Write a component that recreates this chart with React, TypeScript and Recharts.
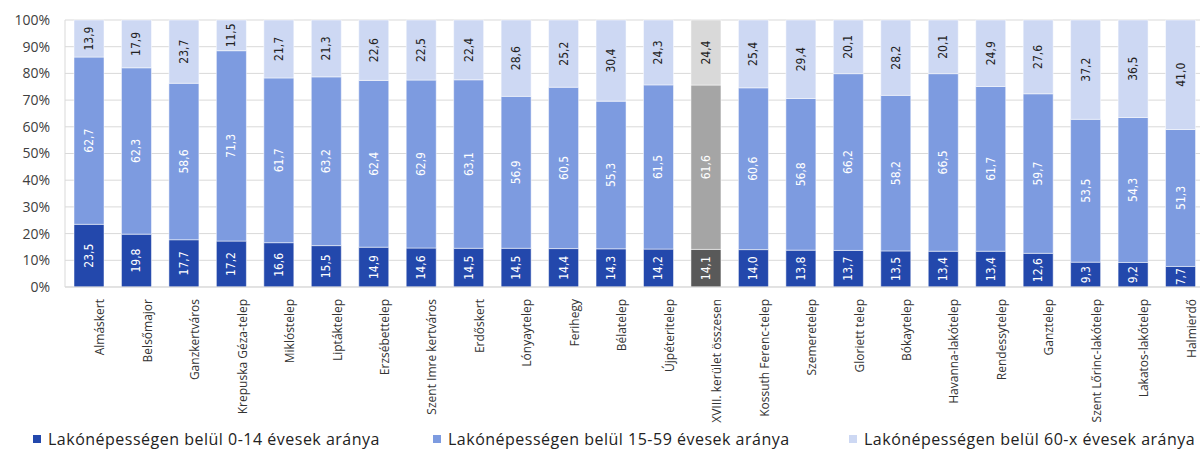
import { BarChart, Bar, XAxis, YAxis, CartesianGrid, LabelList, Cell } from 'recharts';

const categories = [
  'Almáskert', 'Belsőmajor', 'Ganzkertváros', 'Krepuska Géza-telep', 'Miklóstelep', 'Liptáktelep',
  'Erzsébettelep', 'Szent Imre kertváros', 'Erdőskert', 'Lónyaytelep', 'Ferihegy', 'Bélatelep',
  'Újpéteritelep', 'XVIII. kerület összesen', 'Kossuth Ferenc-telep', 'Szemeretelep', 'Gloriett telep',
  'Bókaytelep', 'Havanna-lakótelep', 'Rendessytelep', 'Ganztelep', 'Szent Lőrinc-lakótelep',
  'Lakatos-lakótelep', 'Halmierdő',
];
const young = [23.5, 19.8, 17.7, 17.2, 16.6, 15.5, 14.9, 14.6, 14.5, 14.5, 14.4, 14.3, 14.2, 14.1, 14.0, 13.8, 13.7, 13.5, 13.4, 13.4, 12.6, 9.3, 9.2, 7.7];
const adult = [62.7, 62.3, 58.6, 71.3, 61.7, 63.2, 62.4, 62.9, 63.1, 56.9, 60.5, 55.3, 61.5, 61.6, 60.6, 56.8, 66.2, 58.2, 66.5, 61.7, 59.7, 53.5, 54.3, 51.3];
const old = [13.9, 17.9, 23.7, 11.5, 21.7, 21.3, 22.6, 22.5, 22.4, 28.6, 25.2, 30.4, 24.3, 24.4, 25.4, 29.4, 20.1, 28.2, 20.1, 24.9, 27.6, 37.2, 36.5, 41.0];
const yTicks = [0, 0.1, 0.2, 0.3, 0.4, 0.5, 0.6, 0.7, 0.8, 0.9, 1];
const seriesNames = [
  'Lakónépességen belül 0-14 évesek aránya',
  'Lakónépességen belül 15-59 évesek aránya',
  'Lakónépességen belül 60-x évesek aránya',
];
const totalName = 'XVIII. kerület összesen';

const blue = ['#2348ac', '#7d9be0', '#cdd8f3'];
const gray = ['#595959', '#a5a5a5', '#d9d9d9'];
const labelColor = ['#ffffff', '#ffffff', '#222222'];

const data = categories.map((name, i) => ({ name, young: young[i], adult: adult[i], old: old[i] }));

const fmt = (v: number) => v.toFixed(1).replace('.', ',');

const XTick = ({ x, y, payload }: any) => (
  <g transform={`translate(${x + 11},${y + 10})`}>
    <text
      transform="rotate(-90)"
      textAnchor="end"
      dominantBaseline="central"
      fontFamily="Open Sans"
      fontSize={12}
      fill="#333"
    >
      {payload.value}
    </text>
  </g>
);

const makeLabel = (color: string) => (props: any) => {
  const { x, y, width, height, value } = props;
  const cx = x + width / 2;
  const cy = y + height / 2;
  return (
    <text
      x={cx}
      y={cy}
      transform={`rotate(-90, ${cx}, ${cy})`}
      textAnchor="middle"
      dominantBaseline="central"
      fontFamily="DejaVu Sans Condensed"
      fontSize={12}
      fill={color}
    >
      {fmt(value)}
    </text>
  );
};

const keys = ['young', 'adult', 'old'];

export default function App() {
  return (
    <div style={{ position: 'absolute', left: 0, top: 0, width: 1204, height: 452, background: '#fff', overflow: 'hidden' }}>
      <BarChart
        width={1204}
        height={452}
        data={data}
        stackOffset="expand"
        margin={{ top: 20, right: 0, left: 0, bottom: 0 }}
      >
        <CartesianGrid vertical={false} stroke="#d9d9d9" />
        <XAxis
          dataKey="name"
          interval={0}
          height={165}
          tick={<XTick />}
          tickLine={false}
          tickSize={0}
          axisLine={{ stroke: '#d9d9d9' }}
        />
        <YAxis
          width={65}
          domain={[0, 1]}
          ticks={yTicks}
          tickFormatter={(v) => `${Math.round(v * 100)}%`}
          tick={{ fill: '#404040', fontSize: 14, fontFamily: 'Open Sans' }}
          tickLine={false}
          tickSize={0}
          tickMargin={15}
          axisLine={{ stroke: '#d9d9d9' }}
        />
        {keys.map((k, s) => (
          <Bar
            key={k}
            dataKey={k}
            stackId="a"
            barSize={30}
            fill={blue[s]}
            stroke="#ffffff"
            strokeWidth={0.5}
            isAnimationActive={false}
          >
            {data.map((d) => (
              <Cell key={d.name} fill={d.name === totalName ? gray[s] : blue[s]} />
            ))}
            <LabelList dataKey={k} content={makeLabel(labelColor[s])} />
          </Bar>
        ))}
      </BarChart>
      {seriesNames.map((n, s) => (
        <div
          key={n}
          style={{
            position: 'absolute',
            left: [33, 433, 849][s],
            top: 429,
            height: 20,
            display: 'flex',
            alignItems: 'center',
            fontFamily: 'Open Sans',
            fontSize: 16,
            letterSpacing: 0.5,
            color: '#222',
            whiteSpace: 'nowrap',
            lineHeight: '20px',
          }}
        >
          <span style={{ display: 'inline-block', width: 8, height: 8, background: blue[s], marginRight: 7 }} />
          {n}
        </div>
      ))}
    </div>
  );
}
